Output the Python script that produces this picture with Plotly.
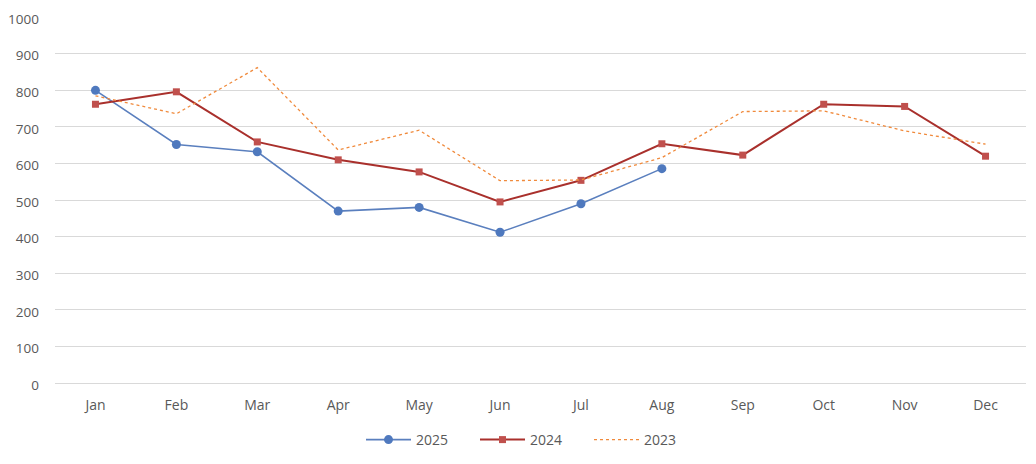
import plotly.graph_objects as go

months = ["Jan", "Feb", "Mar", "Apr", "May", "Jun", "Jul", "Aug", "Sep", "Oct", "Nov", "Dec"]
y2025 = [800, 652, 632, 470, 480, 412, 490, 586]
y2024 = [762, 796, 659, 610, 577, 495, 554, 654, 623, 762, 756, 620]
y2023 = [785, 736, 862, 637, 691, 553, 555, 616, 742, 744, 689, 653]

fig = go.Figure()
fig.add_trace(go.Scatter(
    x=months[:len(y2025)], y=y2025, name="2025", mode="lines+markers",
    line=dict(color="#5A7FBE", width=1.6),
    marker=dict(symbol="circle", size=9, color="#4F79BE"),
))
fig.add_trace(go.Scatter(
    x=months, y=y2024, name="2024", mode="lines+markers",
    line=dict(color="#A9302C", width=2),
    marker=dict(symbol="square", size=7, color="#C0504D"),
))
fig.add_trace(go.Scatter(
    x=months, y=y2023, name="2023", mode="lines",
    line=dict(color="#F08A3C", width=1.3, dash="dot"),
))

W, H = 1028, 456
fig.update_layout(
    width=W, height=H,
    margin=dict(l=47, r=10, t=9, b=81, autoexpand=False),
    paper_bgcolor="white", plot_bgcolor="white",
    font=dict(family="Open Sans, Liberation Sans, sans-serif", size=14, color="#595959"),
    showlegend=True,
    legend=dict(orientation="h", x=0.5 + 10 / W, xanchor="center", xref="container",
                y=1 - 432 / H, yanchor="middle", yref="container",
                entrywidth=54, entrywidthmode="pixels", itemwidth=45,
                font=dict(size=14, color="#595959")),
    xaxis=dict(type="category", categoryorder="array", categoryarray=months,
               range=[-0.5, 11.5], showgrid=False, showline=False, zeroline=False,
               ticks="", ticklabelstandoff=12, automargin=False),
    yaxis=dict(range=[0, 1000.5], tickvals=list(range(0, 1001, 100)), showgrid=True,
               gridcolor="#D9D9D9", gridwidth=1, zeroline=True, zerolinecolor="#D9D9D9",
               zerolinewidth=1, showline=False, ticks="", ticklabelstandoff=15,
               ticklabelshift=2, tickfont=dict(size=13.5),
               ticklabeloverflow="allow", automargin=False),
)

fig.write_html("out.html")
